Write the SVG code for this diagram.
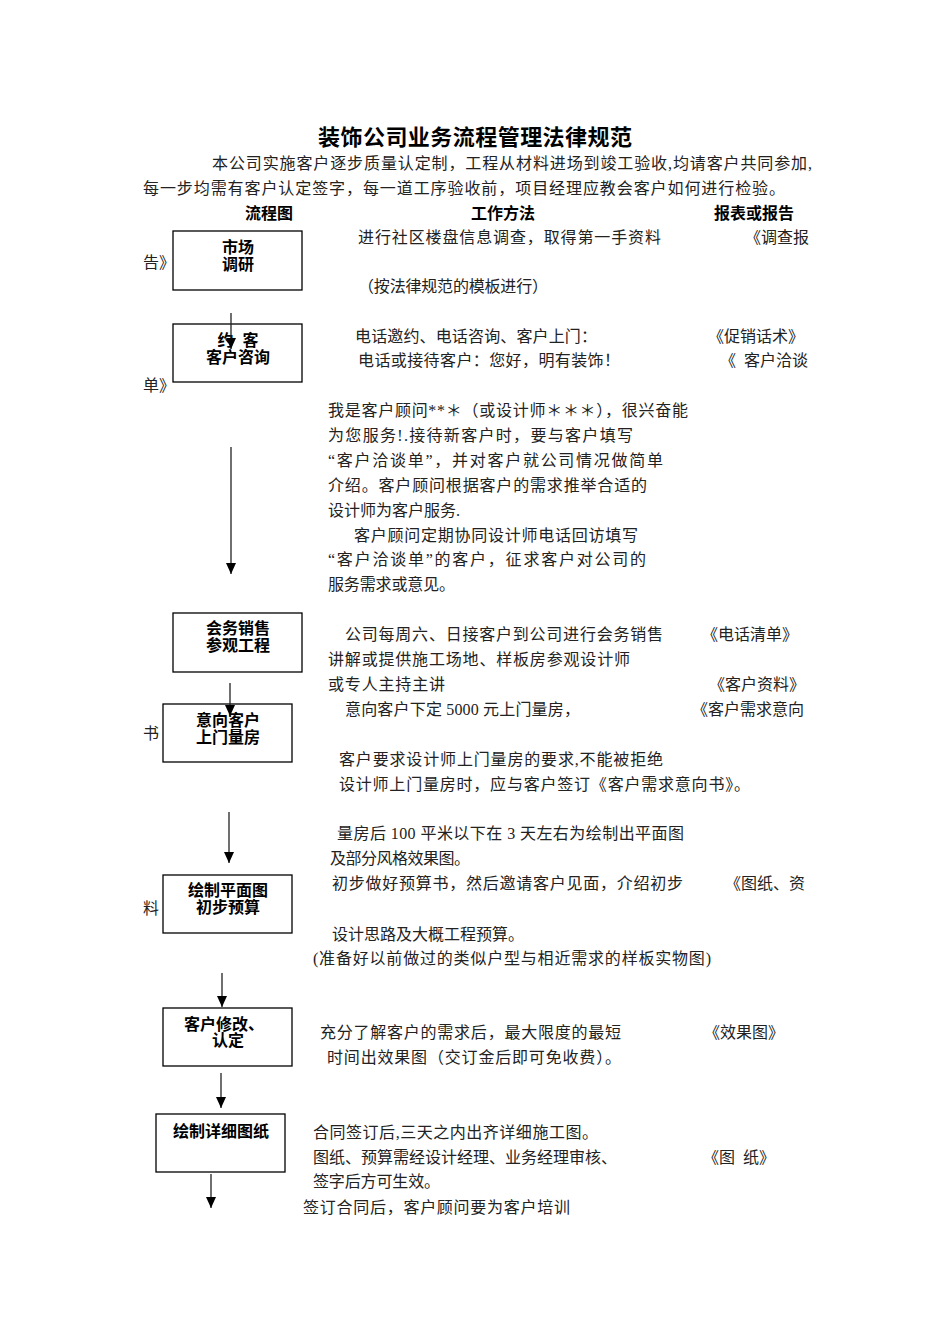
<svg xmlns="http://www.w3.org/2000/svg" width="950" height="1344" viewBox="0 0 950 1344">
<style>
.t{font-family:"Liberation Serif","Noto Sans CJK SC",serif;font-size:16px;fill:#222;white-space:pre}
.h{font-family:"Liberation Sans","Noto Sans CJK SC",sans-serif;font-size:16px;font-weight:bold;fill:#000}
.title{font-family:"Liberation Sans","Noto Sans CJK SC",sans-serif;font-size:22px;font-weight:bold;fill:#000}
.box{fill:#fff;stroke:#000;stroke-width:1.3}
.bt{font-family:"Liberation Sans","Noto Sans CJK SC",sans-serif;font-size:16px;font-weight:bold;fill:#000;text-anchor:middle;white-space:pre}
.c{stroke:#222;stroke-width:1.3;fill:none;marker-end:url(#ah)}
</style>
<defs>
<marker id="ah" markerUnits="userSpaceOnUse" markerWidth="10" markerHeight="11" refX="5" refY="11" orient="0" viewBox="0 0 10 11">
<path d="M0,0 L10,0 L5,11 z" fill="#000"/>
</marker>
</defs>
<rect width="950" height="1344" fill="#fff"/>

<g id="header">
<text class="title" x="318" y="145" textLength="314">装饰公司业务流程管理法律规范</text>
<text class="t" x="212" y="169" textLength="600">本公司实施客户逐步质量认定制，工程从材料进场到竣工验收,均请客户共同参加,</text>
<text class="t" x="143" y="194" textLength="642">每一步均需有客户认定签字，每一道工序验收前，项目经理应教会客户如何进行检验。</text>
<text class="h" x="245" y="219">流程图</text>
<text class="h" x="471" y="219">工作方法</text>
<text class="h" x="714" y="219">报表或报告</text>
</g>

<g id="texts">
<text class="t" x="358" y="243" textLength="303">进行社区楼盘信息调查，取得第一手资料</text>
<text class="t" x="745" y="243">《调查报</text>
<text class="t" x="143" y="268">告》</text>
<text class="t" x="358" y="292" textLength="190">（按法律规范的模板进行）</text>
<text class="t" x="355" y="342" textLength="242">电话邀约、电话咨询、客户上门：</text>
<text class="t" x="708" y="342">《促销话术》</text>
<text class="t" x="358" y="366" textLength="262">电话或接待客户：您好，明有装饰！</text>
<text class="t" x="720" y="366">《  客户洽谈</text>
<text class="t" x="143" y="391">单》</text>
<text class="t" x="328" y="416" textLength="360">我是客户顾问**＊（或设计师＊＊＊），很兴奋能</text>
<text class="t" x="328" y="441" textLength="305">为您服务!.接待新客户时，要与客户填写</text>
<text class="t" x="328" y="466" textLength="335">“客户洽谈单”，并对客户就公司情况做简单</text>
<text class="t" x="328" y="491" textLength="319">介绍。客户顾问根据客户的需求推举合适的</text>
<text class="t" x="328" y="516">设计师为客户服务.</text>
<text class="t" x="354" y="541" textLength="284">客户顾问定期协同设计师电话回访填写</text>
<text class="t" x="328" y="565" textLength="318">“客户洽谈单”的客户，征求客户对公司的</text>
<text class="t" x="328" y="590" textLength="127">服务需求或意见。</text>
<text class="t" x="345" y="640" textLength="318">公司每周六、日接客户到公司进行会务销售</text>
<text class="t" x="702" y="640">《电话清单》</text>
<text class="t" x="328" y="665" textLength="302">讲解或提供施工场地、样板房参观设计师</text>
<text class="t" x="328" y="690" textLength="117">或专人主持主讲</text>
<text class="t" x="709" y="690">《客户资料》</text>
<text class="t" x="345" y="715" textLength="235">意向客户下定 5000 元上门量房，</text>
<text class="t" x="692" y="715">《客户需求意向</text>
<text class="t" x="143" y="739">书</text>
<text class="t" x="339" y="765" textLength="324">客户要求设计师上门量房的要求,不能被拒绝</text>
<text class="t" x="339" y="790" textLength="411">设计师上门量房时，应与客户签订《客户需求意向书》。</text>
<text class="t" x="337" y="839" textLength="347">量房后 100 平米以下在 3 天左右为绘制出平面图</text>
<text class="t" x="330" y="864" textLength="140">及部分风格效果图。</text>
<text class="t" x="332" y="889" textLength="351">初步做好预算书，然后邀请客户见面，介绍初步</text>
<text class="t" x="725" y="889">《图纸、资</text>
<text class="t" x="143" y="914">料</text>
<text class="t" x="332" y="940" textLength="192">设计思路及大概工程预算。</text>
<text class="t" x="313" y="964" textLength="398">(准备好以前做过的类似户型与相近需求的样板实物图)</text>
<text class="t" x="320" y="1038" textLength="301">充分了解客户的需求后，最大限度的最短</text>
<text class="t" x="704" y="1038">《效果图》</text>
<text class="t" x="327" y="1063" textLength="294">时间出效果图（交订金后即可免收费）。</text>
<text class="t" x="313" y="1138" textLength="285">合同签订后,三天之内出齐详细施工图。</text>
<text class="t" x="313" y="1163" textLength="304">图纸、预算需经设计经理、业务经理审核、</text>
<text class="t" x="703" y="1163">《图  纸》</text>
<text class="t" x="313" y="1187" textLength="127">签字后方可生效。</text>
<text class="t" x="303" y="1213" textLength="267">签订合同后，客户顾问要为客户培训</text>
</g>

<g id="n1"><rect class="box" x="173" y="231" width="129" height="59"/>
<text class="bt" x="238" y="253">市场</text><text class="bt" x="238" y="270">调研</text></g>
<g id="n2"><rect class="box" x="173" y="324" width="129" height="58"/>
<text class="bt" x="238" y="346">约  客</text><text class="bt" x="238" y="363">客户咨询</text></g>
<g id="n3"><rect class="box" x="173" y="613" width="129" height="59"/>
<text class="bt" x="238" y="634">会务销售</text><text class="bt" x="238" y="651">参观工程</text></g>
<g id="n4"><rect class="box" x="163" y="704" width="129" height="58"/>
<text class="bt" x="228" y="726">意向客户</text><text class="bt" x="228" y="743">上门量房</text></g>
<g id="n5"><rect class="box" x="163" y="875" width="129" height="58"/>
<text class="bt" x="228" y="896">绘制平面图</text><text class="bt" x="228" y="913">初步预算</text></g>
<g id="n6"><rect class="box" x="163" y="1008" width="129" height="58"/>
<text class="bt" x="224" y="1030">客户修改、</text><text class="bt" x="228" y="1046">认定</text></g>
<g id="n7"><rect class="box" x="156" y="1114" width="129" height="58"/>
<text class="bt" x="221" y="1137">绘制详细图纸</text></g>

<g id="connectors">
<line class="c" x1="231" y1="313" x2="231" y2="349"/>
<line class="c" x1="231" y1="447" x2="231" y2="574"/>
<line class="c" x1="230" y1="683" x2="230" y2="716"/>
<line class="c" x1="229" y1="812" x2="229" y2="863"/>
<line class="c" x1="222" y1="973" x2="222" y2="1007"/>
<line class="c" x1="221" y1="1073" x2="221" y2="1108"/>
<line class="c" x1="211" y1="1174" x2="211" y2="1208"/>
</g>
</svg>
